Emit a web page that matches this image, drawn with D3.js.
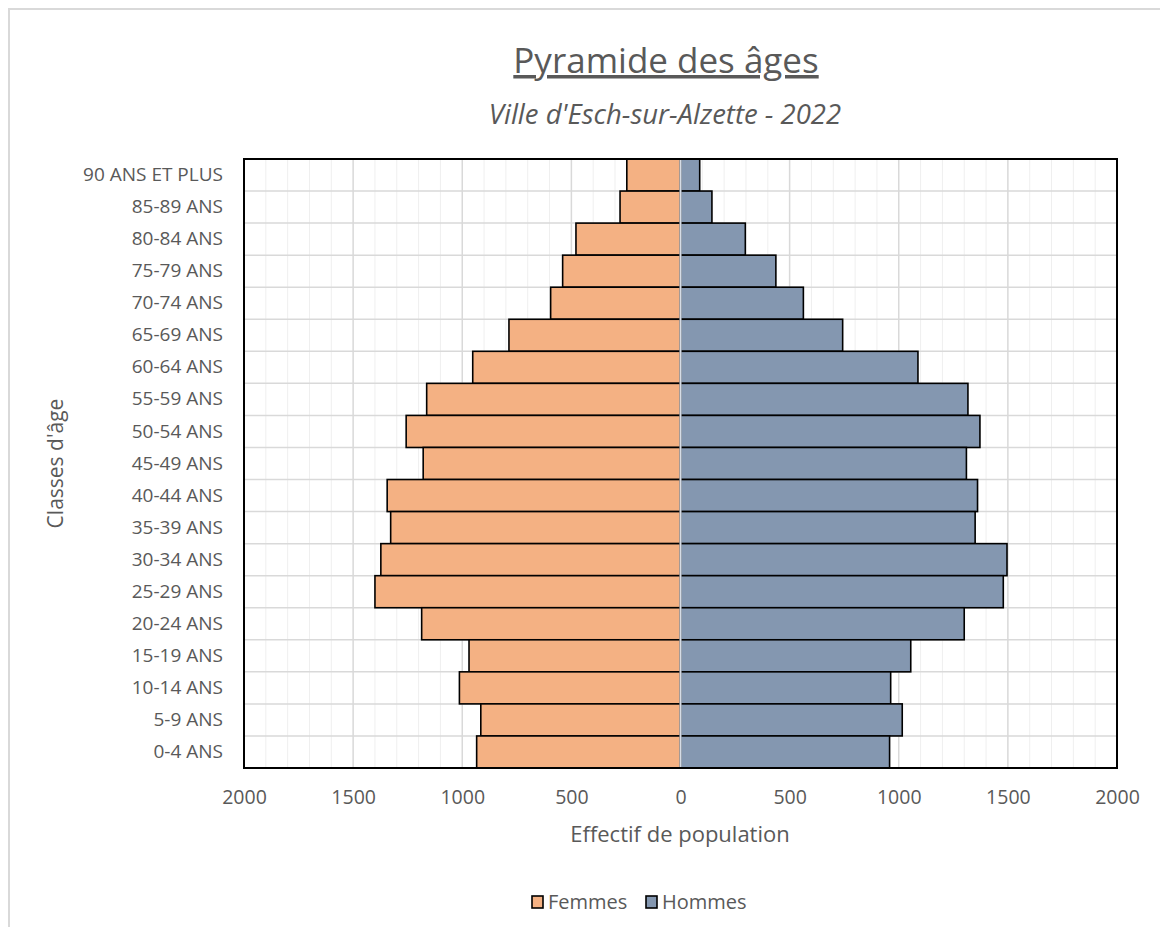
<!DOCTYPE html>
<html>
<head>
<meta charset="utf-8">
<script src="https://cdn.jsdelivr.net/npm/d3@7"></script>
<style>
  body { margin: 0; background: #fff; }
  svg text { font-family: "Open Sans", "Noto Sans", sans-serif; fill: #595959; }
</style>
</head>
<body>
<svg id="chart" width="1160" height="927"></svg>
<script>
// classes d'âge, du haut vers le bas
const ageClasses = [
  "90 ANS ET PLUS", "85-89 ANS", "80-84 ANS", "75-79 ANS", "70-74 ANS",
  "65-69 ANS", "60-64 ANS", "55-59 ANS", "50-54 ANS", "45-49 ANS",
  "40-44 ANS", "35-39 ANS", "30-34 ANS", "25-29 ANS", "20-24 ANS",
  "15-19 ANS", "10-14 ANS", "5-9 ANS", "0-4 ANS",
];
const femmes = [246, 277, 479, 540, 595, 786, 952, 1163, 1257, 1179,
  1344, 1328, 1373, 1400, 1186, 969, 1013, 915, 934];
const hommes = [88, 144, 297, 437, 563, 743, 1088, 1317, 1372, 1310,
  1361, 1350, 1496, 1479, 1300, 1055, 963, 1016, 958];
const tickValues = [-2000, -1500, -1000, -500, 0, 500, 1000, 1500, 2000];
const seriesNames = ["Femmes", "Hommes"];
const colors = { Femmes: "#F4B183", Hommes: "#8497B0" };

const svg = d3.select("#chart");
const pLeft = 244, pRight = 1117, pTop = 159, pBottom = 768;

// cadre extérieur
svg.append("path")
  .attr("d", "M9,927 V9 H1160")
  .attr("fill", "none").attr("stroke", "#d9d9d9").attr("stroke-width", 2);

const x = d3.scaleLinear().domain([-2000, 2000]).range([pLeft, pRight]);
const y = d3.scaleBand().domain(ageClasses).range([pTop, pBottom]).padding(0);

// ── grille ──────────────────────────────────────────────
const g = svg.append("g");
g.selectAll(".minor")
  .data(d3.range(-2000, 2001, 100).filter((v) => v % 500 !== 0))
  .enter().append("line")
  .attr("x1", (d) => x(d)).attr("x2", (d) => x(d))
  .attr("y1", pTop).attr("y2", pBottom)
  .attr("stroke", "#efefef").attr("stroke-width", 1);

g.selectAll(".major")
  .data(tickValues)
  .enter().append("line")
  .attr("x1", (d) => x(d)).attr("x2", (d) => x(d))
  .attr("y1", pTop).attr("y2", pBottom)
  .attr("stroke", "#d9d9d9").attr("stroke-width", 1.5);

g.selectAll(".hgrid")
  .data(ageClasses.slice(1))
  .enter().append("line")
  .attr("x1", pLeft).attr("x2", pRight)
  .attr("y1", (d) => y(d)).attr("y2", (d) => y(d))
  .attr("stroke", "#d9d9d9").attr("stroke-width", 1.5);

// ── barres ──────────────────────────────────────────────
const rows = ageClasses.map((a, i) => ({ age: a, f: femmes[i], h: hommes[i] }));

g.selectAll(".bar-f").data(rows).enter().append("rect")
  .attr("x", (d) => x(-d.f))
  .attr("y", (d) => y(d.age))
  .attr("width", (d) => x(0) - x(-d.f))
  .attr("height", y.bandwidth())
  .attr("fill", colors.Femmes)
  .attr("stroke", "#000").attr("stroke-width", 1.6);

g.selectAll(".bar-h").data(rows).enter().append("rect")
  .attr("x", x(0))
  .attr("y", (d) => y(d.age))
  .attr("width", (d) => x(d.h) - x(0))
  .attr("height", y.bandwidth())
  .attr("fill", colors.Hommes)
  .attr("stroke", "#000").attr("stroke-width", 1.6);

// axe vertical au zéro
g.append("line")
  .attr("x1", x(0)).attr("x2", x(0))
  .attr("y1", pTop + 1).attr("y2", pBottom - 1)
  .attr("stroke", "#d6dce5").attr("stroke-width", 2);

// cadre de la zone de tracé
g.append("rect")
  .attr("x", pLeft).attr("y", pTop)
  .attr("width", pRight - pLeft).attr("height", pBottom - pTop)
  .attr("fill", "none").attr("stroke", "#000").attr("stroke-width", 2);

// ── axes ────────────────────────────────────────────────
const xAxis = svg.append("g")
  .attr("transform", `translate(0,${pBottom})`)
  .call(d3.axisBottom(x).tickValues(tickValues).tickSize(0).tickPadding(22)
    .tickFormat((d) => Math.abs(d)));
xAxis.select(".domain").remove();
xAxis.selectAll("text")
  .style("font-size", "19.5px")
  .style("font-family", "'Open Sans', sans-serif")
  .attr("fill", "#595959");

const yAxis = svg.append("g")
  .attr("transform", `translate(${pLeft},0)`)
  .call(d3.axisLeft(y).tickSize(0).tickPadding(21));
yAxis.select(".domain").remove();
yAxis.selectAll("text")
  .style("font-size", "19px")
  .style("font-family", "'Open Sans', sans-serif")
  .attr("fill", "#595959");

// ── titres ──────────────────────────────────────────────
svg.append("text")
  .attr("x", 666).attr("y", 73)
  .attr("text-anchor", "middle")
  .style("font-size", "35px")
  .style("text-decoration", "underline")
  .text("Pyramide des âges");

svg.append("text")
  .attr("x", 665).attr("y", 124)
  .attr("text-anchor", "middle")
  .style("font-size", "27.5px")
  .style("font-style", "italic")
  .text("Ville d'Esch-sur-Alzette - 2022");

svg.append("text")
  .attr("x", 680).attr("y", 842)
  .attr("text-anchor", "middle")
  .style("font-size", "22px")
  .text("Effectif de population");

svg.append("text")
  .attr("transform", `translate(63,${(pTop + pBottom) / 2}) rotate(-90)`)
  .attr("text-anchor", "middle")
  .style("font-size", "21px")
  .text("Classes d'âge");

// ── légende ─────────────────────────────────────────────
const legendX = [532, 646];
const legend = svg.selectAll(".legend").data(seriesNames).enter().append("g")
  .attr("transform", (d, i) => `translate(${legendX[i]},896)`);
legend.append("rect")
  .attr("width", 11).attr("height", 12)
  .attr("fill", (d) => colors[d])
  .attr("stroke", "#000").attr("stroke-width", 1.6);
legend.append("text")
  .attr("x", 16).attr("y", 13)
  .style("font-size", "20px")
  .text((d) => d);
</script>
</body>
</html>
